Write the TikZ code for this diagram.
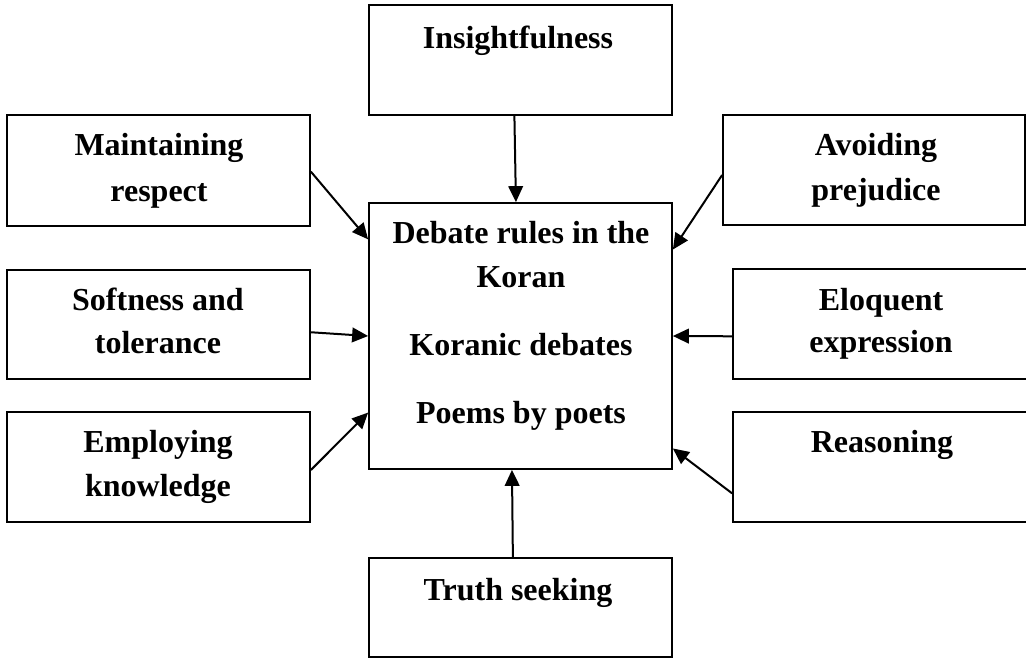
\documentclass[tikz,border=0pt]{standalone}
\usepackage{fontspec}
\setmainfont{Liberation Serif}
\usetikzlibrary{fit,calc,arrows.meta}
\tikzset{
  box/.style={draw=black, line width=1.3pt, inner sep=0pt, fill=white},
  lbl/.style={anchor=base, inner sep=0pt, font=\fontsize{24}{28}\selectfont\bfseries},
  arr/.style={line width=1.5pt, -{Triangle[length=12pt,width=11pt]}}
}
\begin{document}
\begin{tikzpicture}[x=0.75pt,y=-0.75pt]
\useasboundingbox (0,0) rectangle (1026,668);
\clip (0,0) rectangle (1026,668);
\fill[white] (0,0) rectangle (1026,668);
% boxes
\node[box, fit={(369,5)(672,115)}] (ins) {};
\node[box, fit={(7,115)(310,226)}] (mr) {};
\node[box, fit={(723,115)(1025,225)}] (ap) {};
\node[box, fit={(369,203)(672,469)}] (ctr) {};
\node[box, fit={(7,270)(310,379)}] (st) {};
\node[box, fit={(733,269)(1045,379)}] (ee) {};
\node[box, fit={(7,412)(310,522)}] (ek) {};
\node[box, fit={(733,412)(1045,522)}] (rs) {};
\node[box, fit={(369,558)(672,657)}] (ts) {};
% labels
\node[lbl] (tins) at (518,48) {Insightfulness};
\node[lbl] (tmr1) at (159,155) {Maintaining};
\node[lbl] (tmr2) at (159,201) {respect};
\node[lbl] (tap1) at (876,155) {Avoiding};
\node[lbl] (tap2) at (876,200) {prejudice};
\node[lbl] (tc1) at (521,243) {Debate rules in the};
\node[lbl] (tc2) at (521,287) {Koran};
\node[lbl] (tc3) at (521,355) {Koranic debates};
\node[lbl] (tc4) at (521,423) {Poems by poets};
\node[lbl] (tst1) at (158,310) {Softness and};
\node[lbl] (tst2) at (158,353) {tolerance};
\node[lbl] (tek1) at (158,452) {Employing};
\node[lbl] (tek2) at (158,496) {knowledge};
\node[lbl] (tee1) at (881,310) {Eloquent};
\node[lbl] (tee2) at (881,352) {expression};
\node[lbl] (trs) at (882,452) {Reasoning};
\node[lbl] (tts) at (518,600) {Truth seeking};
% arrows
\draw[arr] ($(ins.south west)!0.48!(ins.south east)$) -- ($(ctr.north west)!0.485!(ctr.north east)$);
\draw[arr] ($(mr.north east)!0.51!(mr.south east)$) -- ($(ctr.north west)!0.139!(ctr.south west)$);
\draw[arr] ($(ap.north west)!0.545!(ap.south west)$) -- ($(ctr.north east)!0.177!(ctr.south east)$);
\draw[arr] ($(st.north east)!0.57!(st.south east)$) -- ($(ctr.north west)!0.5!(ctr.south west)$);
\draw[arr] ($(ee.north west)!0.61!(ee.south west)$) -- ($(ctr.north east)!0.5!(ctr.south east)$);
\draw[arr] ($(ek.north east)!0.527!(ek.south east)$) -- ($(ctr.north west)!0.786!(ctr.south west)$);
\draw[arr] ($(rs.north west)!0.736!(rs.south west)$) -- ($(ctr.north east)!0.92!(ctr.south east)$);
\draw[arr] ($(ts.north west)!0.475!(ts.north east)$) -- ($(ctr.south west)!0.472!(ctr.south east)$);
\end{tikzpicture}
\end{document}
